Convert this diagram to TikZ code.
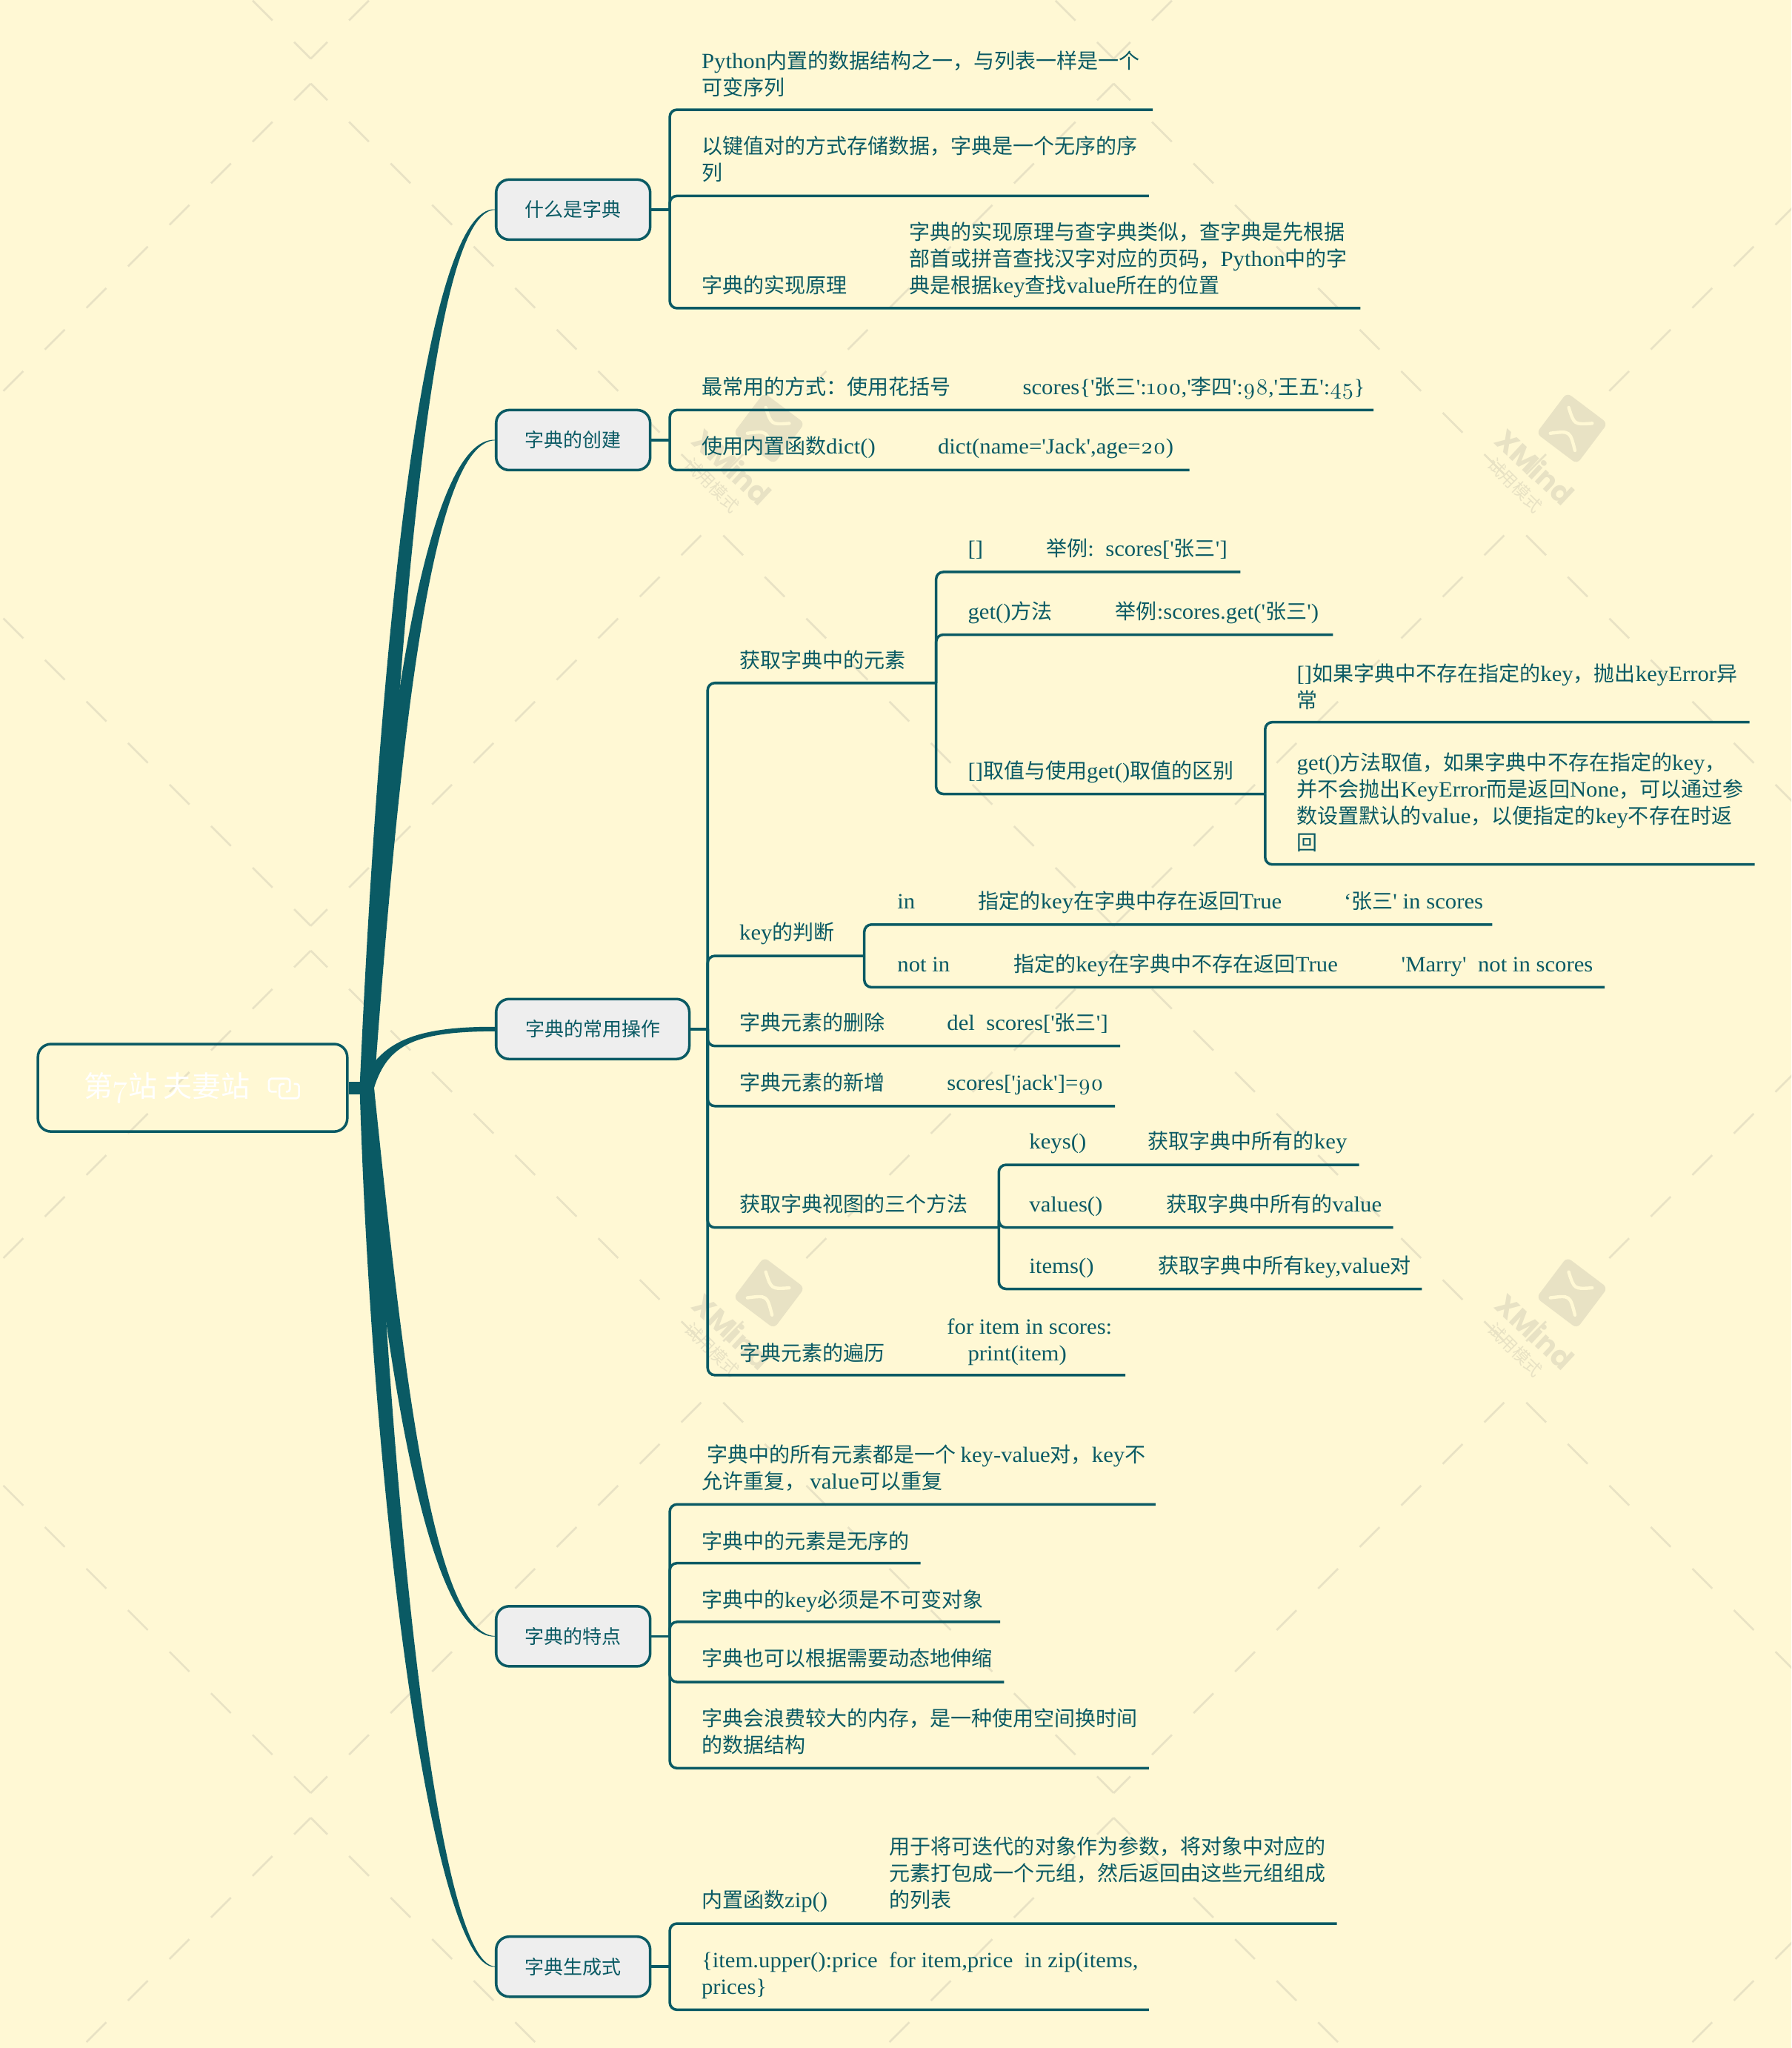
\documentclass[tikz,border=0pt]{standalone}
\usepackage{fontspec}
\setmainfont{Noto Sans CJK SC}
\newfontfamily\latfont[Scale=1.05,FakeStretch=1.045]{Liberation Serif}
\newfontfamily\oldfont[Numbers=OldStyle,Scale=1.08]{Latin Modern Roman}
\newfontfamily\markfont{Poppins}
\newcommand{\lat}[1]{{\latfont #1}}
\newcommand{\olds}[1]{{\oldfont #1}}
\usetikzlibrary{calc}

\definecolor{paper}{RGB}{255,248,212}
\definecolor{teal}{RGB}{10,90,100}
\definecolor{markgray}{RGB}{232,226,196}
\definecolor{topicgray}{RGB}{238,238,238}

\tikzset{
    txt/.style={inner sep=0pt, anchor=base west, align=left, text=teal,
        font=\fontsize{9.05pt}{11.65pt}\selectfont},
    topicbox/.style={draw=teal, fill=topicgray, line width=0.04cm, rounded corners=0.2cm,
        minimum height=0.92cm, inner sep=0pt, text=teal, font=\fontsize{8.4pt}{10pt}\selectfont},
    rootbox/.style={draw=teal, line width=0.04cm, rounded corners=0.2cm, minimum width=4.74cm,
        minimum height=1.34cm, inner sep=0pt, text=white, font=\fontsize{12.6pt}{14pt}\selectfont},
    link/.style={draw=teal, line width=0.04cm, rounded corners=0.11cm},
    dashline/.style={draw=markgray, line width=0.03cm, dash pattern=on 0.43cm off 0.47cm, dash phase=0.07cm},
    trunk/.style={fill=teal},
}

\begin{document}
\begin{tikzpicture}[x=0.02cm, y=-0.02cm]

    % Paper
    \fill[paper] (0,0) rectangle (1372,1568.3);
    \useasboundingbox (0,0) rectangle (1372,1568.3);

    % Background pattern
    \begin{scope}
    \clip (0,0) rectangle (1372,1568.3);
    \foreach \tx in {-615,0,615,1230}
        \foreach \ty in {-664,0,664,1328} {
            \begin{scope}[shift={(\tx,\ty)}]
                \draw[dashline] (238,64) -- (545.5,371.5);
                \draw[dashline] (853,64) -- (545.5,371.5);
                \draw[dashline] (238,709) -- (545.5,401.5);
                \draw[dashline] (853,709) -- (545.5,401.5);
            \end{scope}
        }
    \end{scope}

    % Watermarks
    \foreach \wx/\wy in {589/328,1204/328,589/990,1204/990} {
        \begin{scope}[shift={(\wx,\wy)}]
            \node[fill=markgray, rotate=-37, minimum size=0.78cm, rounded corners=0.08cm, inner sep=0pt] at (0,0) {};
            \draw[paper, line width=0.05cm, line cap=round] (-2.5,-16) .. controls (1.7,-2.8) .. (15.5,-3.8);
            \draw[paper, line width=0.05cm, line cap=round] (-16.6,3.8) .. controls (-1.5,1.9) .. (2.3,17);
            \node[rotate=-43, text=markgray, inner sep=0pt, font=\markfont\bfseries\fontsize{12.5pt}{14pt}\selectfont] at (-28,29.5) {XMind};
            \node[rotate=-45, text=markgray, inner sep=0pt, font=\fontsize{7.4pt}{8pt}\selectfont] at (-43.5,43.5) {试用模式};
        \end{scope}
    }

    % Root and main topics
    \node[rootbox] (root) at (147.5,833) {第\olds{7}站 夫妻站\rule{0.78cm}{0pt}};
    \node[topicbox, minimum width=2.36cm] (whatbox) at (439,160.5) {什么是字典};
    \node[topicbox, minimum width=2.36cm] (makebox) at (439,337) {字典的创建};
    \node[topicbox, minimum width=2.96cm] (usebox) at (454,788) {字典的常用操作};
    \node[topicbox, minimum width=2.36cm] (featbox) at (439,1253) {字典的特点};
    \node[topicbox, minimum width=2.36cm] (genbox) at (439,1506) {字典生成式};

    % Link icon
    \draw[white, line width=0.03cm, rounded corners=0.04cm] (212,836) -- (206,836) -- (206,826) -- (222,826) -- (222,836) -- (219,836);
    \draw[white, line width=0.03cm, rounded corners=0.04cm] (225,830) -- (229,830) -- (229,841) -- (214,841) -- (214,830) -- (218,830);

    % Trunk branches
    \coordinate (hub) at (281,833);
    \fill[trunk] (root.east) ++(0,-4.8) rectangle (286,837.8);
    \foreach \br/\ax/\ay/\bx/\by/\sx/\sy/\e in {
        whatbox/300/450/330/160/7.5/-2/0.2,
        makebox/300/550/330/337/7/-2/0.2,
        usebox/293/800/315/788/4/-2/1.7,
        featbox/300/1030/328/1253/7/2/0.2,
        genbox/292/1150/333/1506/7/2/0.2} {
        \fill[trunk] ($(hub)+(-5.5,0)$) .. controls ({\ax-\sx},\ay) and ({\bx-2},{\by+\sy}) .. ($(\br.west)+(0,{\sy*\e/2})$)
            -- ($(\br.west)+(0,{-\sy*\e/2})$) .. controls ({\bx+2},{\by-\sy}) and ({\ax+\sx},\ay) .. ($(hub)+(5.5,0)$) -- cycle;
    }

    % What is a dict
    \coordinate (whatj) at (513,160.5);
    \node[txt] (what1) at (537,73) {\lat{Python}内置的数据结构之一，与列表一样是一个\\可变序列};
    \node[txt] (what2) at (537,138) {以键值对的方式存储数据，字典是一个无序的序\\列};
    \node[txt] (what3) at (537,224.5) {字典的实现原理};
    \node[txt] (what3t) at (696,224.5) {字典的实现原理与查字典类似，查字典是先根据\\部首或拼音查找汉字对应的页码，\lat{Python}中的字\\典是根据\lat{key}查找\lat{value}所在的位置};
    \draw[link] (whatbox.east) -- (whatj);
    \foreach \n/\ex/\ey in {what1/883/84,what2/880/150,what3/1042/236} {
        \coordinate (\n end) at (\ex,\ey);
        \draw[link] (whatj) |- (\n end);
    }

    % Making a dict
    \coordinate (makej) at (513,337);
    \node[txt] (make1) at (537,302) {最常用的方式：使用花括号};
    \node[txt] (make1t) at (783,302) {\lat{scores\{'}张三\lat{':}\olds{100}\lat{,'}李四\lat{':}\olds{98}\lat{,'}王五\lat{':}\olds{45}\lat{\}}};
    \node[txt] (make2) at (537,347.5) {使用内置函数\lat{dict()}};
    \node[txt] (make2t) at (718,347.5) {\lat{dict(name='Jack',age=}\olds{20}\lat{)}};
    \draw[link] (makebox.east) -- (makej);
    \foreach \n/\ex/\ey in {make1/1052/314,make2/911/360} {
        \coordinate (\n end) at (\ex,\ey);
        \draw[link] (makej) |- (\n end);
    }

    % Common operations
    \coordinate (usej) at (542,788);
    \coordinate (fetchj) at (717,523);
    \coordinate (diffj) at (969,608);
    \coordinate (keyj) at (662,732);
    \coordinate (viewj) at (765,940);
    \node[txt] (fetch) at (566,511.5) {获取字典中的元素};
    \node[txt] (fetch1) at (741,426) {\lat{[]}};
    \node[txt] (fetch1t) at (801,426) {举例\lat{:~~scores['}张三\lat{']}};
    \node[txt] (fetch2) at (741,474) {\lat{get()}方法};
    \node[txt] (fetch2t) at (854,474) {举例\lat{:scores.get('}张三\lat{')}};
    \node[txt] (fetch3) at (741,596) {\lat{[]}取值与使用\lat{get()}取值的区别};
    \node[txt] (diff1) at (993,542) {\lat{[]}如果字典中不存在指定的\lat{key}，抛出\lat{keyError}异\\常};
    \node[txt] (diff2) at (993,651) {\lat{get()}方法取值，如果字典中不存在指定的\lat{key}，\\并不会抛出\lat{KeyError}而是返回\lat{None}，可以通过参\\数设置默认的\lat{value}，以便指定的\lat{key}不存在时返\\回};
    \node[txt] (key) at (566,720) {\lat{key}的判断};
    \node[txt] (key1) at (687,696) {\lat{in}};
    \node[txt] (key1t) at (749,696) {指定的\lat{key}在字典中存在返回\lat{True}};
    \node[txt] (key1e) at (1029,696) {\lat{‘}张三\lat{' in scores}};
    \node[txt] (key2) at (687,744) {\lat{not in}};
    \node[txt] (key2t) at (776,744) {指定的\lat{key}在字典中不存在返回\lat{True}};
    \node[txt] (key2e) at (1073,744) {\lat{'Marry'~~not in scores}};
    \node[txt] (del) at (566,789) {字典元素的删除};
    \node[txt] (delt) at (725,789) {\lat{del~~scores['}张三\lat{']}};
    \node[txt] (add) at (566,835) {字典元素的新增};
    \node[txt] (addt) at (725,835) {\lat{scores['jack']=}\olds{90}};
    \node[txt] (view) at (566,928) {获取字典视图的三个方法};
    \node[txt] (view1) at (788,880) {\lat{keys()}};
    \node[txt] (view1t) at (879,880) {获取字典中所有的\lat{key}};
    \node[txt] (view2) at (788,928) {\lat{values()}};
    \node[txt] (view2t) at (893,928) {获取字典中所有的\lat{value}};
    \node[txt] (view3) at (788,975) {\lat{items()}};
    \node[txt] (view3t) at (887,975) {获取字典中所有\lat{key,value}对};
    \node[txt] (loop) at (566,1042) {字典元素的遍历};
    \node[txt] (loopt) at (725,1042) {\lat{for item in scores:}\\\hspace*{0.32cm}\lat{print(item)}};
    \draw[link] (usebox.east) -- (usej);
    \foreach \n/\ex/\ey in {fetch/717/523,key/662/732,del/858/801,add/854/847,view/765/940,loop/862/1053} {
        \coordinate (\n end) at (\ex,\ey);
        \draw[link] (usej) |- (\n end);
    }
    \foreach \n/\ex/\ey in {fetch1/950/438,fetch2/1021/486,fetch3/969/608} {
        \coordinate (\n end) at (\ex,\ey);
        \draw[link] (fetchj) |- (\n end);
    }
    \foreach \n/\ex/\ey in {diff1/1340/553,diff2/1344/662} {
        \coordinate (\n end) at (\ex,\ey);
        \draw[link] (diffj) |- (\n end);
    }
    \foreach \n/\ex/\ey in {key1/1143/708,key2/1229/756} {
        \coordinate (\n end) at (\ex,\ey);
        \draw[link] (keyj) |- (\n end);
    }
    \foreach \n/\ex/\ey in {view1/1041/892,view2/1067/940,view3/1089/987} {
        \coordinate (\n end) at (\ex,\ey);
        \draw[link] (viewj) |- (\n end);
    }

    % Features
    \coordinate (featj) at (513,1253);
    \node[txt] (feat1) at (537,1140) {\hspace*{0.08cm}字典中的所有元素都是一个 \lat{key-value}对，\lat{key}不\\允许重复， \lat{value}可以重复};
    \node[txt] (feat2) at (537,1186) {字典中的元素是无序的};
    \node[txt] (feat3) at (537,1231) {字典中的\lat{key}必须是不可变对象};
    \node[txt] (feat4) at (537,1276) {字典也可以根据需要动态地伸缩};
    \node[txt] (feat5) at (537,1342) {字典会浪费较大的内存，是一种使用空间换时间\\的数据结构};
    \draw[link] (featbox.east) -- (featj);
    \foreach \n/\ex/\ey in {feat1/885/1152,feat2/705/1197,feat3/766/1242,feat4/769/1288,feat5/880/1354} {
        \coordinate (\n end) at (\ex,\ey);
        \draw[link] (featj) |- (\n end);
    }

    % Comprehension
    \coordinate (genj) at (513,1506);
    \node[txt] (gen1) at (537,1461) {内置函数\lat{zip()}};
    \node[txt] (gen1t) at (681,1461) {用于将可迭代的对象作为参数，将对象中对应的\\元素打包成一个元组，然后返回由这些元组组成\\的列表};
    \node[txt] (gen2) at (537,1527) {\lat{\{item.upper():price~~for item,price~~in zip(items,}\\\lat{prices\}}};
    \draw[link] (genbox.east) -- (genj);
    \foreach \n/\ex/\ey in {gen1/1024/1473,gen2/880/1539} {
        \coordinate (\n end) at (\ex,\ey);
        \draw[link] (genj) |- (\n end);
    }

\end{tikzpicture}
\end{document}
